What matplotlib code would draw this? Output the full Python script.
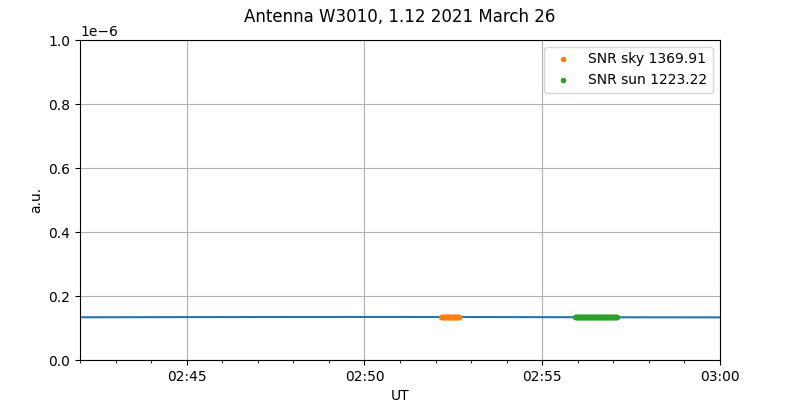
import numpy as np
import pandas as pd
import matplotlib
matplotlib.use("Agg")
import matplotlib.pyplot as plt
import matplotlib.dates as mdates

# ── données ──────────────────────────────────────────────
day = "2021-03-26 "

# signal de l'antenne, un point toutes les 30 s
line_times = ["02:42:00", "02:42:30", "02:43:00", "02:43:30", "02:44:00", "02:44:30",
              "02:45:00", "02:45:30", "02:46:00", "02:46:30", "02:47:00", "02:47:30",
              "02:48:00", "02:48:30", "02:49:00", "02:49:30", "02:50:00", "02:50:30",
              "02:51:00", "02:51:30", "02:52:00", "02:52:30", "02:53:00", "02:53:30",
              "02:54:00", "02:54:30", "02:55:00", "02:55:30", "02:56:00", "02:56:30",
              "02:57:00", "02:57:30", "02:58:00", "02:58:30", "02:59:00", "02:59:30",
              "03:00:00"]
line_vals = [1.335, 1.336, 1.337, 1.338, 1.339, 1.340, 1.341, 1.341, 1.342, 1.342,
             1.343, 1.343, 1.344, 1.344, 1.344, 1.345, 1.345, 1.345, 1.345, 1.344,
             1.344, 1.344, 1.343, 1.342, 1.341, 1.340, 1.339, 1.338, 1.337, 1.336,
             1.336, 1.335, 1.334, 1.334, 1.333, 1.333, 1.332]

# points "ciel" (un par seconde)
sky_times = ["02:52:10", "02:52:11", "02:52:12", "02:52:13", "02:52:14", "02:52:15",
             "02:52:16", "02:52:17", "02:52:18", "02:52:19", "02:52:20", "02:52:21",
             "02:52:22", "02:52:23", "02:52:24", "02:52:25", "02:52:26", "02:52:27",
             "02:52:28", "02:52:29", "02:52:30", "02:52:31", "02:52:32", "02:52:33",
             "02:52:34", "02:52:35", "02:52:36", "02:52:37", "02:52:38", "02:52:39",
             "02:52:40"]
sky_vals = [1.343, 1.344, 1.343, 1.344, 1.344, 1.343, 1.344, 1.344, 1.343, 1.344,
            1.344, 1.343, 1.344, 1.344, 1.343, 1.344, 1.343, 1.344, 1.344, 1.343,
            1.344, 1.343, 1.344, 1.344, 1.343, 1.344, 1.343, 1.344, 1.343, 1.344,
            1.343]

# points "soleil" (un par seconde)
sun_times = ["02:55:56", "02:55:57", "02:55:58", "02:55:59",
             "02:56:00", "02:56:01", "02:56:02", "02:56:03", "02:56:04", "02:56:05",
             "02:56:06", "02:56:07", "02:56:08", "02:56:09", "02:56:10", "02:56:11",
             "02:56:12", "02:56:13", "02:56:14", "02:56:15", "02:56:16", "02:56:17",
             "02:56:18", "02:56:19", "02:56:20", "02:56:21", "02:56:22", "02:56:23",
             "02:56:24", "02:56:25", "02:56:26", "02:56:27", "02:56:28", "02:56:29",
             "02:56:30", "02:56:31", "02:56:32", "02:56:33", "02:56:34", "02:56:35",
             "02:56:36", "02:56:37", "02:56:38", "02:56:39", "02:56:40", "02:56:41",
             "02:56:42", "02:56:43", "02:56:44", "02:56:45", "02:56:46", "02:56:47",
             "02:56:48", "02:56:49", "02:56:50", "02:56:51", "02:56:52", "02:56:53",
             "02:56:54", "02:56:55", "02:56:56", "02:56:57", "02:56:58", "02:56:59",
             "02:57:00", "02:57:01", "02:57:02", "02:57:03", "02:57:04", "02:57:05",
             "02:57:06"]
sun_vals = [1.337, 1.337, 1.336, 1.337,
            1.337, 1.336, 1.337, 1.336, 1.337, 1.336,
            1.337, 1.336, 1.336, 1.337, 1.336, 1.336,
            1.337, 1.336, 1.336, 1.336, 1.335, 1.336,
            1.336, 1.330, 1.336, 1.336, 1.335, 1.336,
            1.336, 1.336, 1.335, 1.336, 1.336, 1.335,
            1.336, 1.336, 1.335, 1.336, 1.335, 1.336,
            1.335, 1.336, 1.335, 1.336, 1.335, 1.335,
            1.336, 1.335, 1.335, 1.336, 1.335, 1.335,
            1.335, 1.336, 1.335, 1.335, 1.335, 1.336,
            1.335, 1.335, 1.335, 1.336, 1.335, 1.335,
            1.335, 1.335, 1.335, 1.334, 1.335, 1.335,
            1.335]

snr_sky = 1369.91
snr_sun = 1223.22

to_t = lambda lst: pd.to_datetime([day + t for t in lst])
scale = 1e-7

# ── figure ───────────────────────────────────────────────
fig, ax = plt.subplots(figsize=(8, 4), dpi=100)
fig.subplots_adjust(left=0.1, right=0.9, top=0.9, bottom=0.1)

ax.plot(to_t(line_times), np.array(line_vals) * scale, color="C0", lw=1.5)
ax.plot(to_t(sky_times), np.array(sky_vals) * scale, ".", color="C1",
        label=f"SNR sky {snr_sky:.2f}")
ax.plot(to_t(sun_times), np.array(sun_vals) * scale, ".", color="C2",
        label=f"SNR sun {snr_sun:.2f}")

ax.set_xlim(pd.Timestamp(day + "02:42:00"), pd.Timestamp(day + "03:00:00"))
ax.set_ylim(0, 1e-6)
ax.xaxis.set_major_locator(mdates.MinuteLocator(byminute=range(0, 60, 5)))
ax.xaxis.set_minor_locator(mdates.MinuteLocator())
ax.xaxis.set_major_formatter(mdates.DateFormatter("%H:%M"))
ax.grid(True)
ax.set_xlabel("UT")
ax.set_ylabel("a.u.")
ax.legend(loc="upper right")
fig.suptitle("Antenna W3010, 1.12 2021 March 26")

plt.savefig("out.png", dpi=100)
